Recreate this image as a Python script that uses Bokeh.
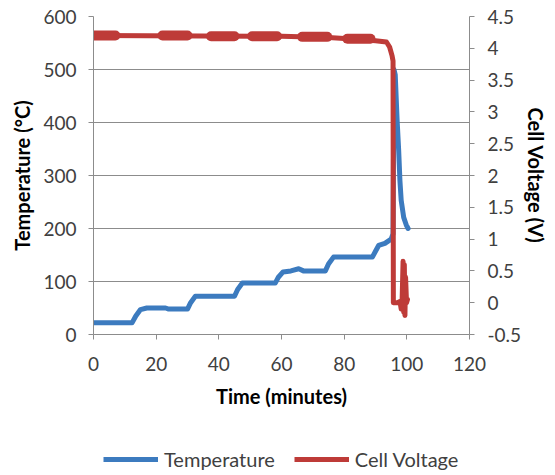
from bokeh.plotting import figure
from bokeh.layouts import column
from bokeh.models import (Range1d, LinearAxis, FixedTicker, CustomJSTickFormatter,
                          Legend, LegendItem)
from bokeh.embed import file_html
from bokeh.resources import INLINE

# ---- data ----
temp_time = [0, 12.3, 13.5, 15, 17, 23, 24, 30, 31, 32.5, 45, 46, 47.5, 58, 59, 60.5,
             63, 65.5, 67, 74, 75, 76.6, 89, 90, 91, 93, 95, 95.6, 95.9, 96.3, 96.9,
             97.4, 97.8, 98.2, 99, 99.8, 100.4]
temp_vals = [22, 22, 35, 47, 50, 50, 48, 48, 60, 72, 72, 85, 97, 97, 108, 118,
             120, 124, 120, 120, 133, 146, 146, 157, 168, 172, 180, 190, 500, 490, 404,
             347, 290, 253, 221, 207, 200]

volt_time = [0, 60, 75, 85, 90, 93.5, 94.5, 95.3, 95.6, 95.7, 97.0, 97.8, 98.2, 98.5,
             98.8, 99.0, 99.2, 99.4, 99.6, 99.9, 100.2]
volt_vals = [4.20, 4.19, 4.17, 4.14, 4.12, 4.10, 4.02, 3.88, 3.80, 0.0, 0.0, 0.02, -0.1, 0.05,
             0.65, -0.15, 0.60, -0.20, 0.40, 0.0, 0.05]

# intervals where the voltage trace is noisy (thicker band)
noise_start = [0, 22, 37.5, 50.6, 66.6, 81]
noise_end = [7, 30, 45, 58.6, 74.6, 88.4]
noise_volt = [4.20, 4.20, 4.19, 4.19, 4.18, 4.15]

x_ticks = [0, 20, 40, 60, 80, 100, 120]
temp_ticks = [0, 100, 200, 300, 400, 500, 600]
volt_ticks = [-0.5, 0, 0.5, 1, 1.5, 2, 2.5, 3, 3.5, 4, 4.5]

series_names = ["Temperature", "Cell Voltage"]

BLUE = "#3c7bbf"
RED = "#be3b38"
AXIS = "#8c8c8c"
TXT = "#404040"
FONT = "Lato"

p = figure(width=555, height=440, x_range=Range1d(0, 120), y_range=Range1d(0, 600),
           output_backend="svg", toolbar_location=None,
           min_border_left=93, min_border_right=86, min_border_top=16, min_border_bottom=106)
p.outline_line_color = None
p.extra_y_ranges = {"v": Range1d(-0.5, 4.5)}

fmt = CustomJSTickFormatter(code="return tick.toString();")

def style_axis(ax):
    ax.axis_line_color = AXIS
    ax.major_tick_line_color = AXIS
    ax.major_tick_out = 5
    ax.major_tick_in = 0
    ax.minor_tick_line_color = None
    ax.major_label_text_font = FONT
    ax.major_label_text_font_size = "19px"
    ax.major_label_text_color = TXT
    ax.axis_label_text_font = FONT
    ax.axis_label_text_font_size = "20px"
    ax.axis_label_text_font_style = "bold"
    ax.axis_label_text_color = "black"
    ax.formatter = fmt

xa = p.xaxis[0]
xa.ticker = FixedTicker(ticks=x_ticks)
xa.axis_label = "Time (minutes)"
style_axis(xa)
xa.major_label_standoff = 17
xa.axis_label_standoff = 10

ya = p.yaxis[0]
ya.ticker = FixedTicker(ticks=temp_ticks)
ya.axis_label = "Temperature (°C)"
style_axis(ya)
ya.major_label_standoff = 12
ya.axis_label_standoff = 6

ra = LinearAxis(y_range_name="v", ticker=FixedTicker(ticks=volt_ticks),
                axis_label="Cell Voltage (V)")
style_axis(ra)
ra.major_label_standoff = 13
ra.axis_label_standoff = 0
p.add_layout(ra, "right")

p.xgrid.grid_line_color = None
p.ygrid.ticker = FixedTicker(ticks=temp_ticks)
p.ygrid.grid_line_color = AXIS
p.ygrid.grid_line_width = 1

p.line(temp_time, temp_vals, line_color=BLUE, line_width=5, line_join="round",
       line_cap="round")
p.line(volt_time, volt_vals, line_color=RED, line_width=5, line_join="round",
       line_cap="round", y_range_name="v")
p.segment(x0=noise_start, y0=noise_volt, x1=noise_end, y1=noise_volt, line_color=RED,
          line_width=10, line_cap="round", y_range_name="v")

# ---- legend strip below the chart (its frame is aligned with the chart's) ----
lg = figure(width=555, height=35, x_range=Range1d(0, 1), y_range=Range1d(1000, 1001),
            output_backend="svg", toolbar_location=None, x_axis_type=None,
            y_axis_type=None, min_border=0)
lg.outline_line_color = None
lg.grid.grid_line_color = None
# same series, but outside this strip's ranges, so only their legend glyphs show
rt = lg.line(temp_time, temp_vals, line_color=BLUE, line_width=5)
rv = lg.line(volt_time, volt_vals, line_color=RED, line_width=5)
legend = Legend(items=[LegendItem(label=series_names[0], renderers=[rt]),
                       LegendItem(label=series_names[1], renderers=[rv])],
                location=(10, 4), orientation="horizontal")
legend.border_line_color = None
legend.background_fill_alpha = 0
legend.label_text_font = FONT
legend.label_text_font_size = "20px"
legend.label_text_color = TXT
legend.glyph_width = 55
legend.glyph_height = 20
legend.label_height = 20
legend.label_standoff = 6
legend.spacing = 19
legend.padding = 0
legend.margin = 0
lg.add_layout(legend, "center")

layout = column(p, lg, spacing=0)
open("out.html", "w").write(file_html(layout, INLINE))
